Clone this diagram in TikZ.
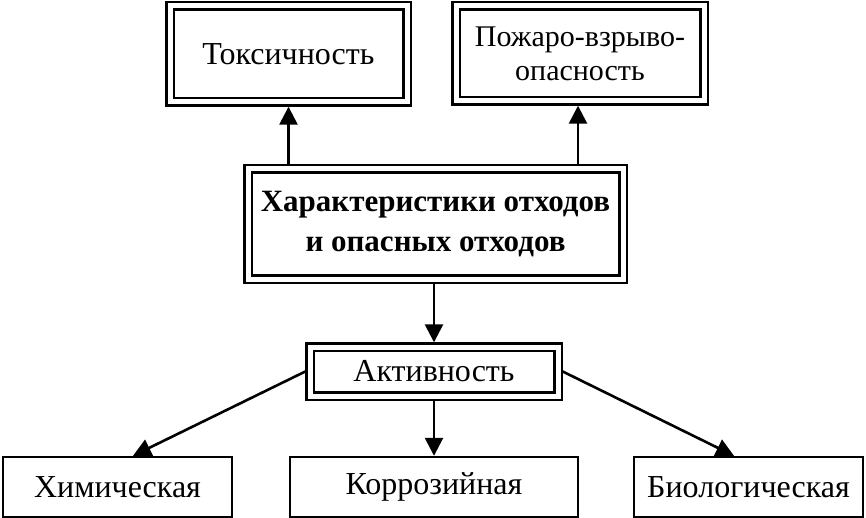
\documentclass[tikz,border=0pt]{standalone}
\usepackage{fontspec}
\setmainfont{Liberation Serif}
\usetikzlibrary{arrows.meta}
\begin{document}
\begin{tikzpicture}[x=1pt,y=-1pt,
 dbl/.style={draw, double, double distance=5pt, line width=2.2pt, inner sep=0pt, outer sep=4.7pt, align=center, font=\fontsize{32}{34}\selectfont},
 sgl/.style={draw, line width=2.4pt, inner sep=0pt, outer sep=1.2pt, align=center, font=\fontsize{32}{34}\selectfont, minimum height=60pt},
 arr/.style={line width=2.6pt, -{Triangle[length=18pt,width=18pt]}}]
\useasboundingbox (0,0) rectangle (866,518);
\node[dbl, minimum width=237pt, minimum height=96pt] (tox) at (288.5,54) {Токсичность};
\node[dbl, minimum width=248pt, minimum height=95pt, font=\fontsize{30}{34}\selectfont] (fire) at (580,53.5) {Пожаро-взрыво-\\опасность};
\node[dbl, minimum width=375pt, minimum height=110pt, font=\bfseries\fontsize{31}{40}\selectfont] (main) at (435.5,224) {Характеристики отходов\\и опасных отходов};
\node[dbl, minimum width=248pt, minimum height=49pt] (act) at (434,371.5) {Активность};
\node[sgl, minimum width=229pt] (chem) at (117.5,487) {Химическая};
\node[sgl, minimum width=288pt] (corr) at (434,487) {Коррозийная};
\node[sgl, minimum width=229pt] (bio) at (748.5,487) {Биологическая};
\draw[arr] (tox.south |- main.north) -- (tox.south);
\draw[arr] ([xshift=-2pt]fire.south |- main.north) -- ([xshift=-2pt]fire.south);
\draw[arr] (act.north |- main.south) -- (act.north);
\draw[arr] (act.south) -- (corr.north);
\draw[arr] (act.west) -- ([xshift=15.5pt]chem.north);
\draw[arr] (act.east) -- ([xshift=-14.5pt]bio.north);
\end{tikzpicture}
\end{document}
